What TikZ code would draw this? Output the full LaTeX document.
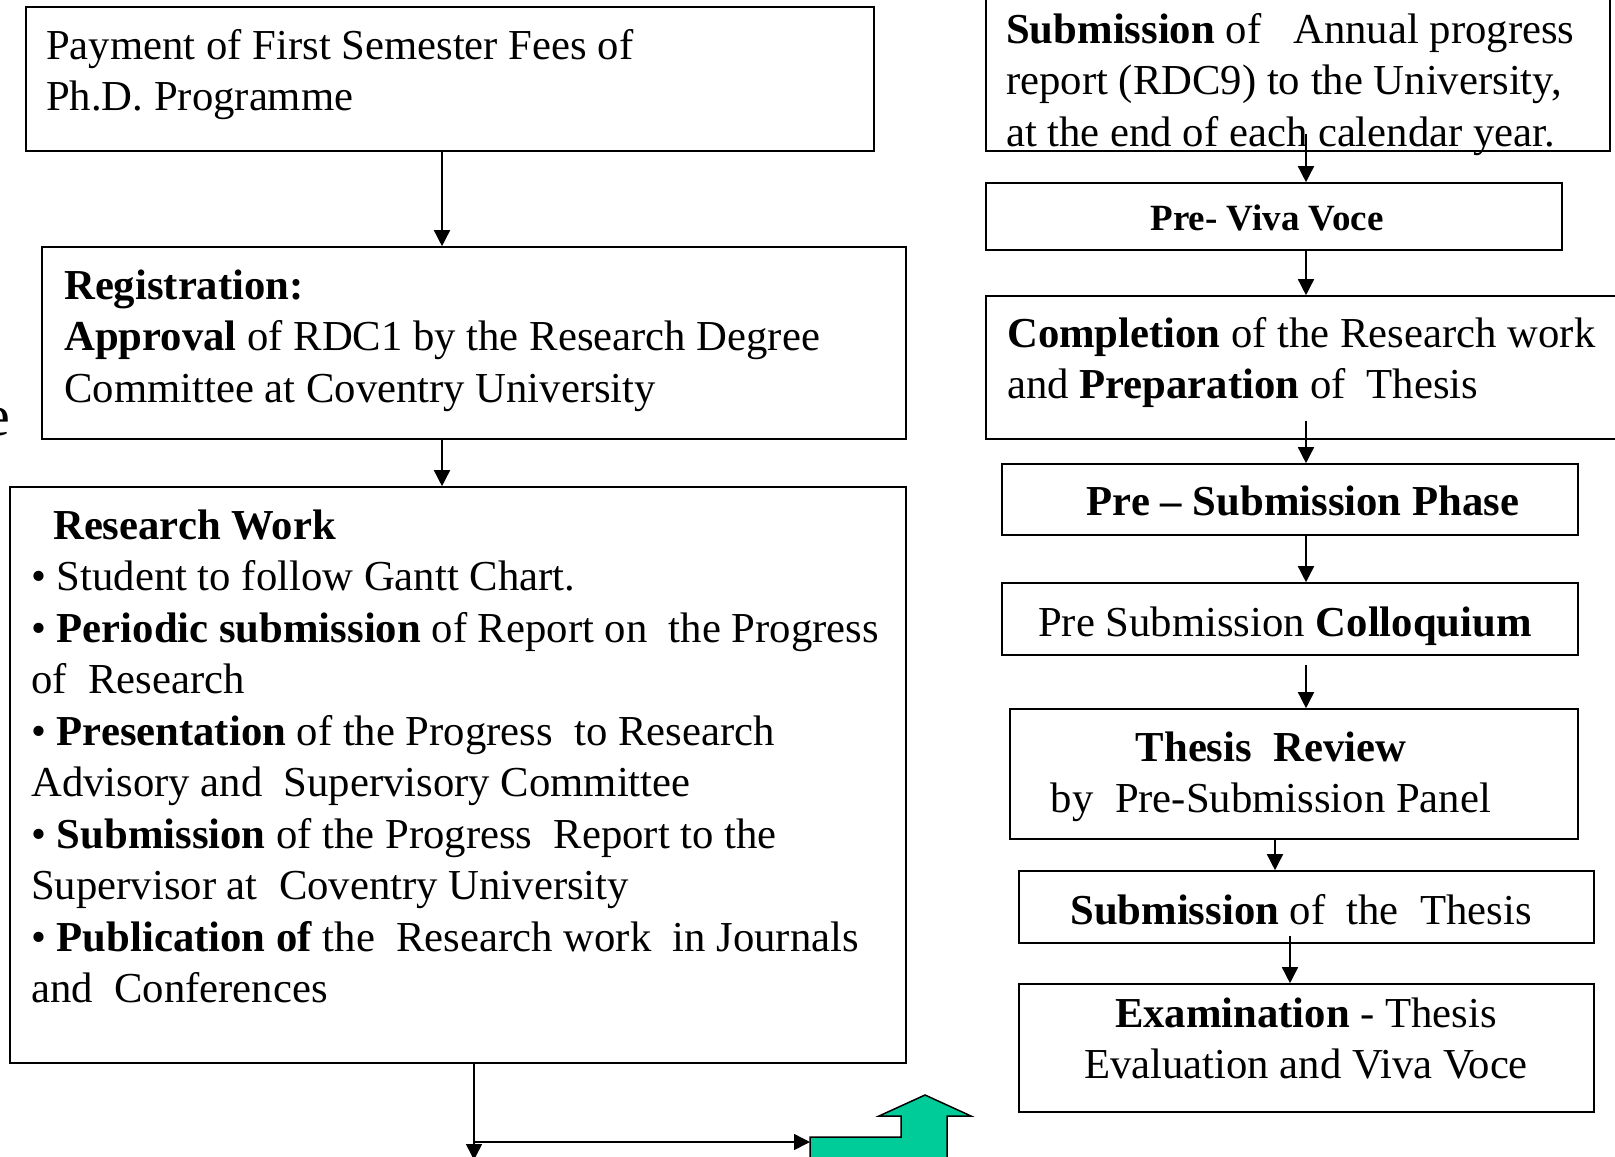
\documentclass[tikz,border=0pt]{standalone}
\usepackage{fontspec}
\setmainfont{Liberation Serif}
\usetikzlibrary{arrows.meta,calc}
\newcommand\fsz{\fontsize{42.7}{51.5}\selectfont}
\newcommand\fsv{\fontsize{37}{44}\selectfont}
\definecolor{grn}{RGB}{0,204,153}
\begin{document}
\begin{tikzpicture}[x=1pt,y=-1pt,
  box/.style={draw, line width=1.6pt, inner sep=0pt, rectangle},
  tl/.style={inner sep=0pt, anchor=north west, align=left, font=\fsz},
  tc/.style={inner sep=0pt, anchor=north, align=center, font=\fsz},
  arr/.style={line width=1.5pt, -{Triangle[length=16pt,width=16pt]}}]
\useasboundingbox (0,0) rectangle (1615,1157);
\clip (0,0) rectangle (1615,1157);
\fill[white] (0,0) rectangle (1615,1157);

% left column boxes
\node[box, minimum width=848pt, minimum height=144pt] (b1) at (450,79) {};
\node[box, minimum width=864pt, minimum height=192pt] (b2) at (474,343) {};
\node[box, minimum width=896pt, minimum height=576pt] (b3) at (458,775) {};

% right column boxes
\node[box, minimum width=624pt, minimum height=171pt] (r1) at (1298,65.5) {};
\node[box, minimum width=576pt, minimum height=67pt] (r2) at (1274,216.5) {};
\node[box, minimum width=639pt, minimum height=143pt] (r3) at (1305.5,367.5) {};
\node[box, minimum width=576pt, minimum height=71pt] (r4) at (1290,499.5) {};
\node[box, minimum width=576pt, minimum height=72pt] (r5) at (1290,619) {};
\node[box, minimum width=568pt, minimum height=130pt] (r6) at (1294,774) {};
\node[box, minimum width=575pt, minimum height=72pt] (r7) at (1306.5,907) {};
\node[box, minimum width=575pt, minimum height=128pt] (r8) at (1306.5,1048) {};

% texts
\node[tl] (b1t) at (46,59-36) {\strut Payment of First Semester Fees of\\Ph.D. Programme};
\node[tl] (b2t) at (64,299-36) {\strut\textbf{Registration:}\\\textbf{Approval} of RDC1 by the Research Degree\\Committee at Coventry University};
\node[tl] (b3t) at (31,539-36) {\strut\hspace*{22pt}\textbf{Research Work}\\• Student to follow Gantt Chart.\\• \textbf{Periodic submission} of Report on~ the Progress\\of~ Research\\• \textbf{Presentation} of the Progress~ to Research\\Advisory and~ Supervisory Committee\\• \textbf{Submission} of the Progress~ Report to the\\Supervisor at~ Coventry University\\• \textbf{Publication of} the~ Research work~ in Journals\\and~ Conferences};

\node[tl] (r1t) at (1006,43-36) {\strut\textbf{Submission} of~~ Annual progress\\report (RDC9) to the University,\\at the end of each calendar year.};
\node[tc, font=\fsv] (r2t) at (1267,230-31) {\strut\textbf{Pre- Viva Voce}};
\node[tl] (r3t) at (1007,347-36) {\strut\textbf{Completion} of the Research work\\and \textbf{Preparation} of~ Thesis};
\node[tc] (r4t) at (1303,515-36) {\strut\textbf{Pre – Submission Phase}};
\node[tc] (r5t) at (1285,636-36) {\strut Pre Submission \textbf{Colloquium}};
\node[tc] (r6t) at (1271,761-36) {\strut\textbf{Thesis~ Review}\\by~ Pre-Submission Panel};
\node[tc] (r7t) at (1301,924-36) {\strut\textbf{Submission} of~ the~ Thesis};
\node[tc] (r8t) at (1306,1027-36) {\strut\textbf{Examination} - Thesis\\Evaluation and Viva Voce};

\node[inner sep=0pt, anchor=base east, font=\fontsize{58}{60}\selectfont] (ee) at (10,435) {e};

% green bent arrow
\draw[line width=1.5pt, fill=grn] (810,1170) -- (810,1137) -- (901,1137) -- (901,1116)
  -- (879,1116) -- (925,1095) -- (971,1116) -- (947,1116) -- (947,1170) -- cycle;
\coordinate (gl) at (810,1142);
\coordinate (bot) at (474,1160);
\coordinate (j) at (474,1142);

% connectors left
\draw[arr] ([xshift=-8pt]b1.south) -- ([xshift=-8pt]b1.south |- b2.north);
\draw[arr] ([xshift=-32pt]b2.south) -- ([xshift=-32pt]b2.south |- b3.north);
\draw[arr] ([xshift=16pt]b3.south) -- (bot);
\draw[arr] (j) -- (gl);

% connectors right
\draw[arr] ([xshift=8pt,yshift=18pt]r1.south) -- ([xshift=8pt]r1.south |- r2.north);
\draw[arr] ([xshift=32pt]r2.south) -- ([xshift=32pt]r2.south |- r3.north);
\draw[arr] ([xshift=0.5pt,yshift=19pt]r3.south) -- ([xshift=0.5pt]r3.south |- r4.north);
\draw[arr] ([xshift=16pt]r4.south) -- ([xshift=16pt]r4.south |- r5.north);
\draw[arr] ([xshift=16pt,yshift=-9pt]r5.south) -- ([xshift=16pt]r5.south |- r6.north);
\draw[arr] ([xshift=-19pt]r6.south) -- ([xshift=-19pt]r6.south |- r7.north);
\draw[arr] ([xshift=-16.5pt,yshift=8pt]r7.south) -- ([xshift=-16.5pt]r7.south |- r8.north);
\end{tikzpicture}
\end{document}
